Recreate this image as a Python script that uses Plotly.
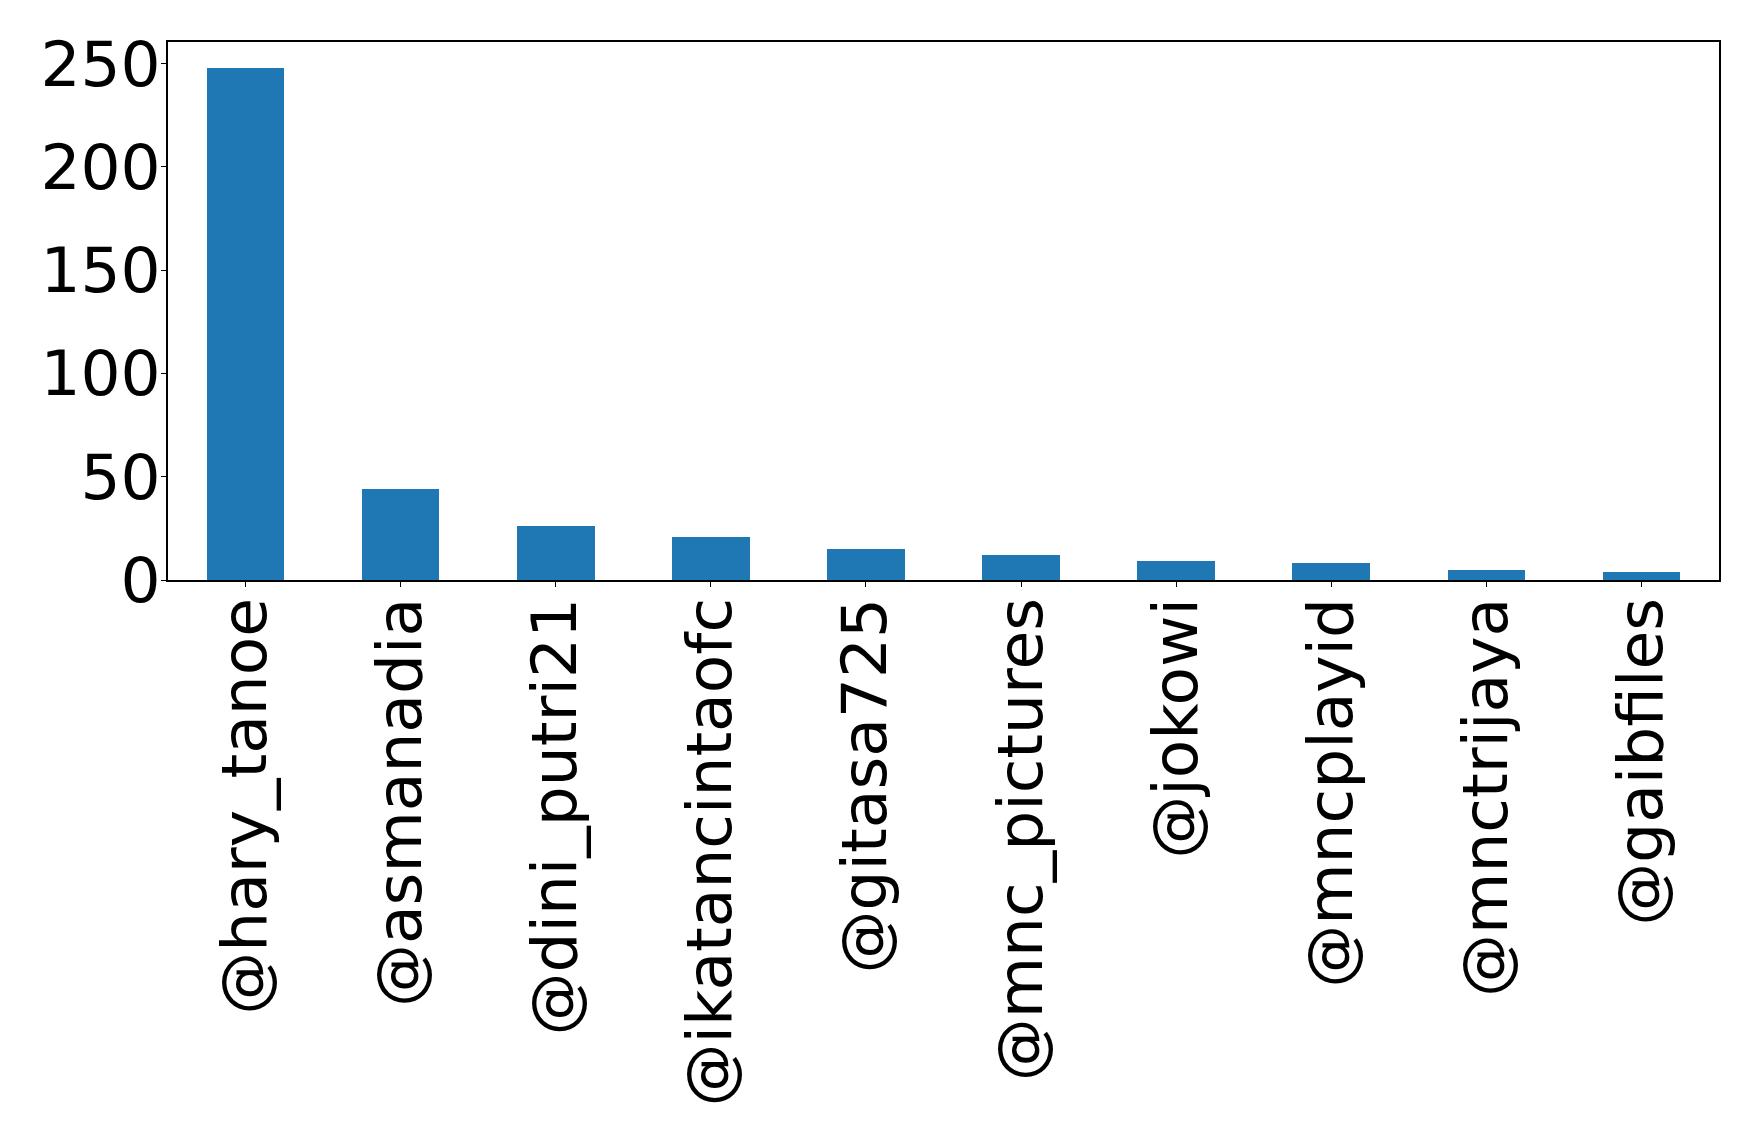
import plotly.graph_objects as go

categories = ["@hary_tanoe", "@asmanadia", "@dini_putri21", "@ikatancintaofc", "@gitasa725",
              "@mnc_pictures", "@jokowi", "@mncplayid", "@mnctrijaya", "@gaibfiles"]
counts = [248, 44, 26, 21, 15, 12, 9, 8, 5, 4]
y_ticks = [0, 50, 100, 150, 200, 250]

fig = go.Figure(go.Bar(
    x=list(range(len(categories))), y=counts,
    width=0.5, marker=dict(color="#1f77b4", line=dict(width=0)),
))

font = dict(family="DejaVu Sans", size=63, color="black")
fig.update_layout(
    width=1758, height=1134,
    margin=dict(l=160, r=47, t=34, b=562, autoexpand=False),
    plot_bgcolor="white", paper_bgcolor="white",
    showlegend=False, bargap=0,
)
fig.update_xaxes(
    range=[-0.5, len(categories) - 0.5],
    tickvals=list(range(len(categories))), ticktext=categories,
    tickangle=-90, tickfont=font, automargin=False,
    showline=True, linecolor="black", linewidth=1.5, mirror=True,
    ticks="outside", ticklen=5, tickcolor="black", tickwidth=1,
    showgrid=False, zeroline=False, ticklabelstandoff=-14,
)
fig.update_yaxes(
    range=[0, 260.4], tickvals=y_ticks, tickfont=font, automargin=False,
    showline=True, linecolor="black", linewidth=1.5, mirror=True,
    ticks="outside", ticklen=5, tickcolor="black", tickwidth=1,
    showgrid=False, zeroline=False, ticklabelstandoff=-12,
)
fig.write_html("out.html")
